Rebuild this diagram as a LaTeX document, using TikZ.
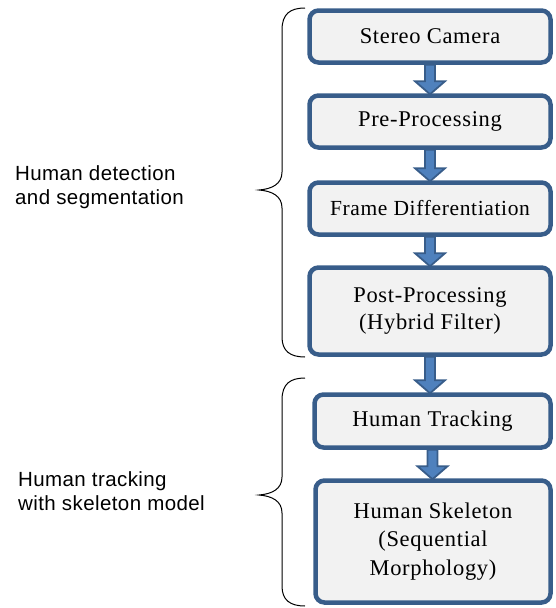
\documentclass[tikz,border=0pt]{standalone}
\usepackage{fontspec}
\setmainfont{Liberation Serif}[LetterSpace=3]
\newfontfamily\sansf{Liberation Sans}[LetterSpace=2]
\usetikzlibrary{calc}
\definecolor{bord}{RGB}{56,93,138}
\definecolor{afill}{RGB}{79,129,189}
\definecolor{bfill}{RGB}{242,242,242}
\newcommand\blockarr[2]{\draw[barrow] let \p1=(#1.south), \p2=(#2.north) in
  (\x1-5pt,\y1) -- (\x1+5pt,\y1) -- (\x1+5pt,\y2+12pt) -- (\x1+15pt,\y2+12pt) -- (\x1,\y2-1pt)
  -- (\x1-15pt,\y2+12pt) -- (\x1-5pt,\y2+12pt) -- cycle;}
\begin{document}
\begin{tikzpicture}[x=1pt,y=-1pt,
  box/.style={draw=bord, fill=bfill, line width=4.5pt, rounded corners=9pt, align=center,
    font=\fontsize{22.5}{27}\selectfont, inner sep=0pt},
  barrow/.style={draw=bord, fill=afill, line width=1.8pt, line join=miter},
  brace/.style={draw=black, line width=1pt},
  side/.style={font=\sansf\fontsize{20.5}{24}\selectfont, align=left, anchor=north west, inner sep=0pt}]
\useasboundingbox (0,0) rectangle (555,608);

\node[box, minimum width=241pt, minimum height=52pt] (cam) at (430,36.5) {Stereo Camera};
\node[box, minimum width=241pt, minimum height=52pt] (pre) at (430,121.5) {Pre-Processing};
\node[box, minimum width=241pt, minimum height=52pt, font=\fontsize{21.5}{24}\selectfont] (fd) at (430,208.5) {Frame Differentiation};
\node[box, minimum width=241pt, minimum height=87pt] (post) at (430,311) {Post-Processing\\(Hybrid Filter)};
\node[box, minimum width=236pt, minimum height=53pt] (trk) at (432.5,421) {Human Tracking};
\node[box, minimum width=235pt, minimum height=122pt, font=\fontsize{22.5}{28.5}\selectfont] (skel) at (433,541.5) {Human Skeleton\\(Sequential\\Morphology)};

\blockarr{cam}{pre}
\blockarr{pre}{fd}
\blockarr{fd}{post}
\blockarr{post}{trk}
\blockarr{trk}{skel}

\draw[brace] (305,8) .. controls (290,8) and (282,14) .. (282,30) -- (282,172)
  .. controls (282,184) and (272,189) .. (259,190)
  .. controls (272,191) and (282,196) .. (282,208) -- (282,337)
  .. controls (282,351) and (290,357) .. (305,357);
\draw[brace] (305,378) .. controls (290,378) and (282,384) .. (282,400) -- (282,477)
  .. controls (282,489) and (272,494) .. (259,495)
  .. controls (272,496) and (282,501) .. (282,513) -- (282,586)
  .. controls (282,600) and (290,606) .. (305,606);

\node[side] (t1) at (15,165) {Human detection\\and segmentation};
\node[side] (t2) at (18,471) {Human tracking\\with skeleton model};
\end{tikzpicture}
\end{document}
